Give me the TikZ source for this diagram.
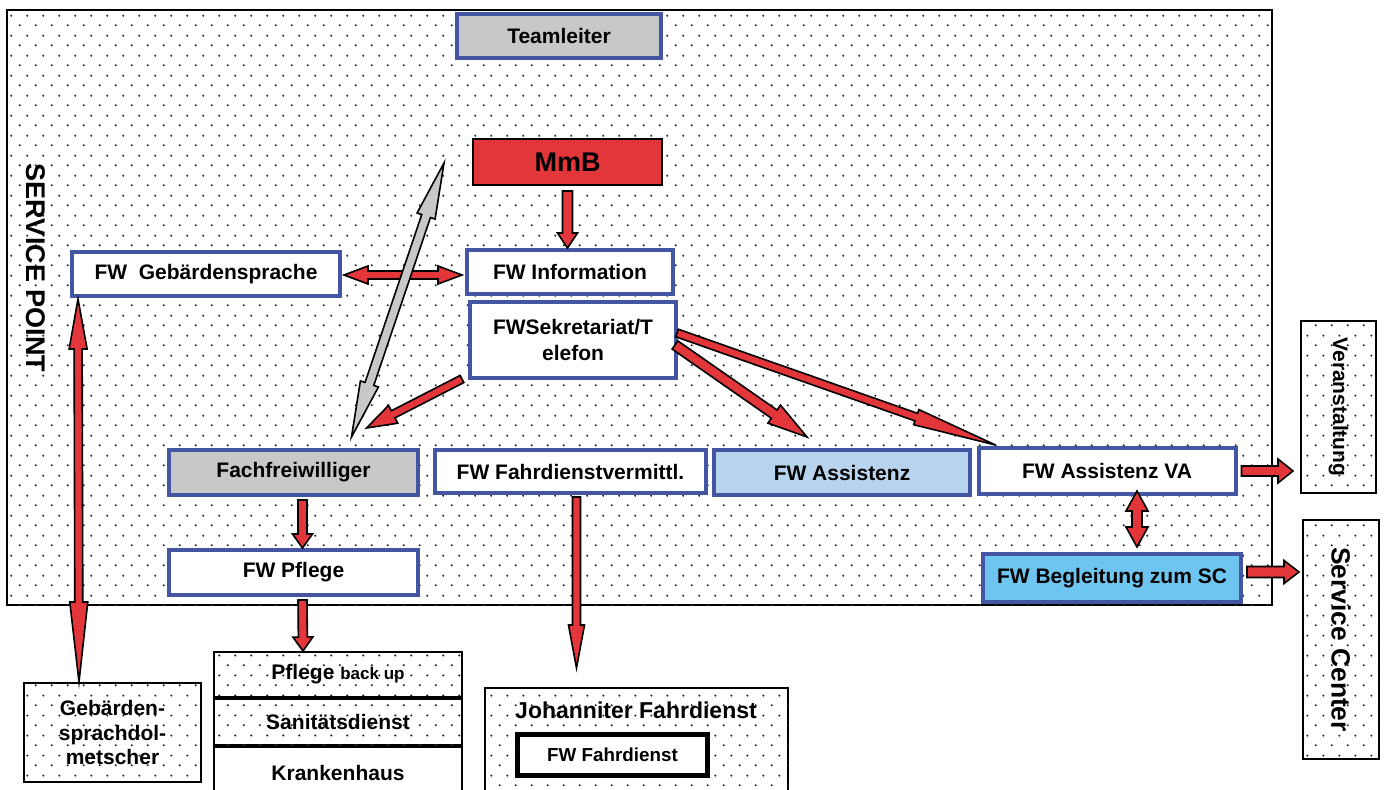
\documentclass[tikz,border=0pt]{standalone}
\usepackage{fontspec}
\setmainfont{Liberation Sans}
\usetikzlibrary{calc,patterns}

\definecolor{fwblue}{RGB}{68,85,164}
\definecolor{arrowred}{RGB}{226,54,58}
\definecolor{boxgrey}{RGB}{200,200,200}
\definecolor{assistblue}{RGB}{184,211,238}
\definecolor{sccblue}{RGB}{110,198,240}
\definecolor{dotgrey}{RGB}{40,40,40}

\pgfdeclarepatternformonly{sparse dots}{\pgfqpoint{0pt}{0pt}}{\pgfqpoint{8pt}{10pt}}{\pgfqpoint{8pt}{10pt}}{%
  \pgfpathcircle{\pgfqpoint{2pt}{2.5pt}}{0.6pt}%
  \pgfpathcircle{\pgfqpoint{6pt}{7.5pt}}{0.6pt}%
  \pgfusepath{fill}}

\newcommand{\lblfont}{\bfseries\fontsize{10.5}{13}\selectfont}

\tikzset{
  dotfill/.style={draw=black, line width=1pt, fill=white,
    postaction={pattern=sparse dots, pattern color=dotgrey}},
  dotbox/.style={dotfill, inner sep=0pt, font=\lblfont, align=center},
  fwbox/.style={draw=fwblue, line width=2pt, fill=white, inner sep=0pt,
    font=\lblfont, align=center},
  redarrow/.style={fill=arrowred, draw=black, line width=0.8pt, line join=miter},
  greyarrow/.style={fill=boxgrey, draw=black, line width=0.8pt, line join=miter}
}

% #2 start, #3 tip, #4 half shaft, #5 half head, #6 head length
\newcommand{\blockarrow}[6][redarrow]{%
  \path (#2) coordinate (ba-s);
  \path (#3) coordinate (ba-e);
  \path ($(ba-e)!#6!(ba-s)$) coordinate (ba-h);
  \filldraw[#1] ($(ba-s)!#4!90:(ba-e)$) -- ($(ba-h)!#4!90:(ba-e)$)
    -- ($(ba-h)!#5!90:(ba-e)$) -- (ba-e)
    -- ($(ba-h)!#5!-90:(ba-e)$) -- ($(ba-h)!#4!-90:(ba-e)$)
    -- ($(ba-s)!#4!-90:(ba-e)$) -- cycle;
}
% same with a head on both ends, #6 and #7 the two head lengths
\newcommand{\dblarrow}[7][redarrow]{%
  \path (#2) coordinate (da-s);
  \path (#3) coordinate (da-e);
  \path ($(da-s)!#6!(da-e)$) coordinate (da-hs);
  \path ($(da-e)!#7!(da-s)$) coordinate (da-he);
  \filldraw[#1] (da-s) -- ($(da-hs)!#5!90:(da-e)$) -- ($(da-hs)!#4!90:(da-e)$)
    -- ($(da-he)!#4!90:(da-e)$) -- ($(da-he)!#5!90:(da-e)$) -- (da-e)
    -- ($(da-he)!#5!-90:(da-e)$) -- ($(da-he)!#4!-90:(da-e)$)
    -- ($(da-hs)!#4!-90:(da-e)$) -- ($(da-hs)!#5!-90:(da-e)$) -- cycle;
}

\begin{document}
\begin{tikzpicture}[x=0.5pt,y=-0.5pt]
\useasboundingbox (0,0) rectangle (1385,790);

\draw[dotfill] (7,10) rectangle (1272,605);
\node[rotate=-90, font=\bfseries\fontsize{13.5}{16}\selectfont] (splabel) at (36,268) {SERVICE POINT};

\node[fwbox, fill=boxgrey, minimum width=102pt, minimum height=22pt] (teamleiter) at (559,36) {Teamleiter};
\node[draw=black, line width=1pt, fill=arrowred, minimum width=94.5pt, minimum height=23pt,
  font=\bfseries\fontsize{13.5}{16}\selectfont] (mmb) at (567.5,162) {MmB};
\node[fwbox, minimum width=103pt, minimum height=22pt] (info) at (570,272) {FW Information};
\node[fwbox, minimum width=103pt, minimum height=38pt] (sekr) at (573,340) {FWSekretariat/T\\elefon};
\node[fwbox, minimum width=134pt, minimum height=22pt] (gebsp) at (206,274) {FW~~Gebärdensprache};

\node[fwbox, fill=boxgrey, minimum width=124.5pt, minimum height=22.5pt] (fach) at (293.5,472.5) {Fachfreiwilliger};
\node[fwbox, minimum width=135.5pt, minimum height=21.5pt] (fahrv) at (570.5,471.5) {FW Fahrdienstvermittl.};
\node[fwbox, fill=assistblue, minimum width=128pt, minimum height=22.5pt] (assist) at (842,472.5) {FW Assistenz};
\node[fwbox, minimum width=128.5pt, minimum height=23pt] (assistva) at (1107,471) {FW Assistenz VA};
\node[fwbox, minimum width=124.5pt, minimum height=22.5pt] (pflege) at (293.5,572.5) {FW Pflege};
\node[fwbox, fill=sccblue, minimum width=129pt, minimum height=24pt] (begl) at (1112,578) {FW Begleitung zum SC};

\node[dotbox, minimum width=37.5pt, minimum height=85.5pt] (veran) at (1338.5,407) {\rotatebox{-90}{Veranstaltung}};
\node[dotbox, minimum width=38pt, minimum height=119.5pt, font=\bfseries\fontsize{13.2}{16}\selectfont]
  (sc) at (1341,639.5) {\rotatebox{-90}{Service Center}};
\node[dotbox, minimum width=88.5pt, minimum height=49.5pt, font=\bfseries\fontsize{10.5}{12.25}\selectfont]
  (dolm) at (112.5,732.5) {Gebärden-\\sprachdol-\\metscher};

\node[dotbox, minimum width=124pt, minimum height=22.5pt] (backup) at (338,674.5)
  {Pflege {\fontsize{8.5}{10}\selectfont back up}};
\node[dotbox, minimum width=124pt, minimum height=23pt] (sani) at (338,722) {Sanitätsdienst};
\node[draw=black, line width=1pt, fill=white, inner sep=0pt, font=\lblfont,
  minimum width=124pt, minimum height=26pt] (kranken) at (338,773) {Krankenhaus};

\node[dotbox, minimum width=151.5pt, minimum height=55.5pt] (johann) at (636.5,743.5) {};
\node[font=\bfseries\fontsize{11.5}{14}\selectfont] (johanntxt) at (636,710) {Johanniter Fahrdienst};
\node[draw=black, line width=2.5pt, fill=white, inner sep=0pt, minimum width=95pt, minimum height=20.5pt,
  font=\bfseries\fontsize{9.4}{11}\selectfont] (fwfahr) at (612.5,755) {FW Fahrdienst};
\coordinate (fahrend) at ($(johann.north)+(-60,-19)$);

\blockarrow{$(mmb.south)+(0,5)$}{mmb.south |- info.north}{2.5pt}{5pt}{7.5pt}
\dblarrow{$(gebsp.east)+(2,1)$}{$(gebsp.east -| info.west)+(-3,1)$}{2pt}{4.5pt}{12pt}{12pt}
\dblarrow[greyarrow]{$(fach.north)+(58,-11)$}{$(mmb.west)+(-28,1)$}{2.3pt}{4.75pt}{28pt}{28pt}
\blockarrow{$(sekr.south west)+(-6,-1)$}{$(fach.north)+(73,-20)$}{2pt}{5pt}{15pt}
\blockarrow{$(sekr.east)+(-3,5)$}{$(assist.north)+(-35,-11)$}{2.5pt}{5.5pt}{20pt}
\blockarrow{$(sekr.east)+(-1,-7)$}{$(assistva.north west)+(19,-1)$}{2pt}{4pt}{42pt}
\blockarrow{$(fach.south)+(9,3)$}{$(pflege.north)+(9,0)$}{2.25pt}{5pt}{7pt}
\blockarrow{$(pflege.south)+(9,3)$}{$(backup.north)+(-35,0)$}{2.25pt}{5pt}{7pt}
\blockarrow{$(fahrv.south)+(6,2)$}{fahrend}{2pt}{4pt}{21.5pt}
\dblarrow{$(gebsp.south west)+(8,1)$}{$(dolm.north west)+(56,0)$}{2pt}{4.5pt}{25pt}{40pt}
\dblarrow{$(assistva.south)+(30,-5)$}{$(begl.north)+(25,-5)$}{2.5pt}{5.5pt}{10pt}{10pt}
\blockarrow{$(assistva.east)+(4,0)$}{$(assistva.east -| veran.west)+(-7,0)$}{2.5pt}{6pt}{7.5pt}
\blockarrow{$(begl.east)+(4,-6)$}{$(begl.east -| sc.west)+(-3,-6)$}{2.75pt}{5.75pt}{7.5pt}
\end{tikzpicture}
\end{document}
